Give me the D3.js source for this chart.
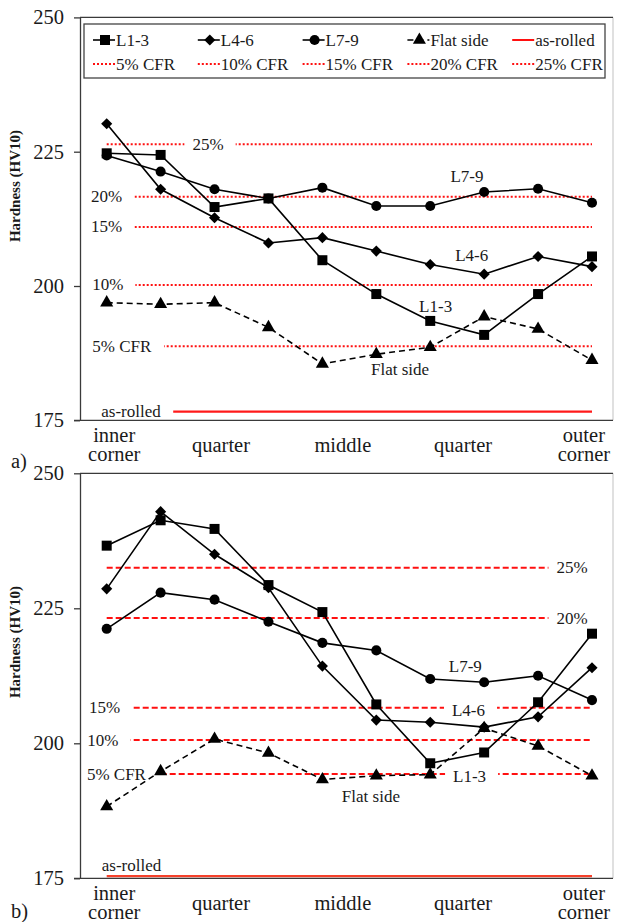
<!DOCTYPE html>
<html>
<head>
<meta charset="utf-8">
<script src="https://cdn.jsdelivr.net/npm/d3@7"></script>
<style>
  body { margin: 0; background: #fff; }
  svg { display: block; }
  svg, svg text { font-family: "Liberation Serif", "Tinos", "Times New Roman", "DejaVu Serif", serif; }
  text { fill: #1a1a1a; }
</style>
</head>
<body>
<svg id="chart" width="617" height="922"></svg>
<script>
// ---- data ----
// measurement positions across the section (inner corner -> outer corner)
const positions = [0, 1, 2, 3, 4, 5, 6, 7, 8, 9];
const categoryLabels = ["inner corner", "quarter", "middle", "quarter", "outer corner"];
const yTicks = [175, 200, 225, 250];
const seriesNames = ["L1-3", "L4-6", "L7-9", "Flat side"];
const cfrNames = ["5% CFR", "10% CFR", "15% CFR", "20% CFR", "25% CFR"];

// panel a)
const aL13  = [224.7, 224.4, 214.7, 216.3, 204.8, 198.5, 193.5, 190.9, 198.5, 205.5];
const aL46  = [230.2, 218.0, 212.7, 208.0, 209.0, 206.5, 204.0, 202.2, 205.5, 203.6];
const aL79  = [224.3, 221.3, 218.0, 216.3, 218.3, 214.9, 214.9, 217.5, 218.1, 215.5];
const aFlat = [196.9, 196.6, 196.9, 192.3, 185.5, 187.3, 188.6, 194.3, 192.0, 186.2];
const aCFR  = [188.8, 200.2, 211.0, 216.6, 226.4];
const aAsRolled = 176.6;

// panel b)
const bL13  = [236.6, 241.3, 239.7, 229.3, 224.3, 207.2, 196.3, 198.3, 207.6, 220.3];
const bL46  = [228.6, 242.9, 235.0, 228.8, 214.3, 204.3, 203.9, 203.0, 204.9, 214.0];
const bL79  = [221.2, 227.9, 226.6, 222.5, 218.6, 217.2, 211.9, 211.3, 212.5, 208.0];
const bFlat = [188.3, 194.8, 200.8, 198.2, 193.3, 194.0, 194.2, 202.8, 199.5, 194.0];
const bCFR  = [194.3, 200.6, 206.6, 223.2, 232.5];
const bAsRolled = 175.4;

// ---- layout ----
const FONT = '"Liberation Serif", "Tinos", "Times New Roman", "DejaVu Serif", serif';
const svg = d3.select("#chart").attr("font-family", FONT);
const plotLeft = 80, plotRight = 613;
const x = d3.scaleLinear().domain([0, 9]).range([106.7, 592]);
// where each section label sits along the position axis
const categoryAt = [0.14, 2.12, 4.38, 6.61, 8.85];

const markerShapes = {
  "L1-3": { type: d3.symbolSquare, size: 100, rotate: 0 },
  "L4-6": { type: d3.symbolSquare, size: 62, rotate: 45 },
  "L7-9": { type: d3.symbolCircle, size: 80, rotate: 0 },
  "Flat side": { type: d3.symbolTriangle, size: 74, rotate: 0 }
};
const dashFor = name => name === "Flat side" ? "6,4" : null;

const panels = [
  {
    tag: "a)", tagY: 468, top: 17.4, bottom: 420.3, titleY: 186,
    series: [aL13, aL46, aL79, aFlat], cfr: aCFR, asRolled: aAsRolled,
    cfrDash: "2,2", asRolledColor: "#ff1a1a", legend: true,
    // annotation anchors in data units (position index, hardness)
    notes: [
      ["25%", 1.88, aCFR[4]], ["20%", 0.0, aCFR[3]], ["15%", 0.0, aCFR[2]],
      ["10%", 0.02, aCFR[1]], ["5% CFR", 0.28, aCFR[0]], ["as-rolled", 0.45, aAsRolled],
      ["L7-9", 6.68, 220.4], ["L4-6", 6.77, 205.6], ["L1-3", 6.1, 196.1], ["Flat side", 5.44, 184.5]
    ]
  },
  {
    tag: "b)", tagY: 918, top: 473.3, bottom: 878.3, titleY: 642,
    series: [bL13, bL46, bL79, bFlat], cfr: bCFR, asRolled: bAsRolled,
    cfrDash: "6,3", asRolledColor: "#f5402a", legend: false,
    notes: [
      ["25%", 8.63, bCFR[4]], ["20%", 8.63, bCFR[3]], ["15%", -0.04, bCFR[2]],
      ["10%", -0.07, bCFR[1]], ["5% CFR", 0.18, bCFR[0]], ["as-rolled", 0.46, 177.3],
      ["L7-9", 6.65, 214.2], ["L4-6", 6.71, 206.0], ["L1-3", 6.73, 193.8], ["Flat side", 4.9, 190.1]
    ]
  }
];

function symbolPath(name) {
  const m = markerShapes[name];
  return d3.symbol().type(m.type).size(m.size)();
}

function drawPanel(p) {
  const y = d3.scaleLinear().domain([175, 250]).range([p.bottom, p.top]);
  const g = svg.append("g");

  // plot frame
  g.append("line").attr("x1", plotRight).attr("x2", plotRight)
    .attr("y1", p.top).attr("y2", p.bottom).attr("stroke", "#d6d6d6").attr("stroke-width", 1.5);
  g.append("line").attr("x1", plotLeft).attr("x2", plotRight)
    .attr("y1", p.top).attr("y2", p.top).attr("stroke", "#3a3a3a").attr("stroke-width", 1.3);

  const cfrLayer = g.append("g");
  const bgLayer = g.append("g");
  const seriesLayer = g.append("g");
  const textLayer = g.append("g");

  // y axis
  const ya = g.append("g").attr("transform", `translate(${plotLeft},0)`)
    .call(d3.axisLeft(y).tickValues(yTicks).tickSize(6).tickSizeOuter(0).tickPadding(10));
  ya.attr("font-family", FONT).attr("font-size", 20.5);
  ya.select(".domain").attr("stroke", "#3a3a3a").attr("stroke-width", 1.3);
  ya.selectAll(".tick line").attr("stroke", "#3a3a3a").attr("stroke-width", 1.3);
  ya.selectAll(".tick text").attr("fill", "#1a1a1a");

  // x baseline
  g.append("line").attr("x1", plotLeft - 6).attr("x2", plotRight)
    .attr("y1", p.bottom).attr("y2", p.bottom).attr("stroke", "#3a3a3a").attr("stroke-width", 1.3);

  // category labels
  categoryLabels.forEach((lab, i) => {
    const words = lab.split(" ");
    const cx = x(categoryAt[i]);
    const t = g.append("text").attr("text-anchor", "middle").attr("font-size", 20.5);
    if (words.length === 1) {
      t.append("tspan").attr("x", cx).attr("y", p.bottom + 32).text(words[0]);
    } else {
      t.append("tspan").attr("x", cx).attr("y", p.bottom + 22).text(words[0]);
      t.append("tspan").attr("x", cx).attr("dy", 18.5).text(words.slice(1).join(" "));
    }
  });

  // axis title
  g.append("text")
    .attr("transform", `translate(20,${p.titleY}) rotate(-90)`)
    .attr("text-anchor", "middle").attr("font-size", 15).attr("font-weight", "bold")
    .text("Hardness (HV10)");

  // panel tag
  g.append("text").attr("x", 11).attr("y", p.tagY).attr("font-size", 20.5).text(p.tag);

  // CFR reference lines
  p.cfr.forEach(v => {
    cfrLayer.append("line").attr("x1", x(0)).attr("x2", x(9))
      .attr("y1", y(v)).attr("y2", y(v))
      .attr("stroke", "#ff1010").attr("stroke-width", 2).attr("stroke-dasharray", p.cfrDash);
  });
  cfrLayer.append("line").attr("x1", x(0)).attr("x2", x(9))
    .attr("y1", y(p.asRolled)).attr("y2", y(p.asRolled))
    .attr("stroke", p.asRolledColor).attr("stroke-width", 2.2);

  // series
  const line = d3.line().x((d, i) => x(positions[i])).y(d => y(d));
  p.series.forEach((vals, si) => {
    const name = seriesNames[si];
    seriesLayer.append("path").datum(vals).attr("d", line)
      .attr("fill", "none").attr("stroke", "#000").attr("stroke-width", 1.6)
      .attr("stroke-dasharray", dashFor(name));
    seriesLayer.selectAll(null).data(vals).join("path")
      .attr("d", symbolPath(name))
      .attr("transform", (d, i) => `translate(${x(positions[i])},${y(d)}) rotate(${markerShapes[name].rotate})`)
      .attr("fill", "#000");
  });

  // annotations (white backing gaps the reference lines)
  p.notes.forEach(([txt, xi, v]) => {
    const t = textLayer.append("text").attr("x", x(xi)).attr("y", y(v))
      .attr("text-anchor", "middle").attr("dominant-baseline", "central")
      .attr("font-size", 17).text(txt);
    const bb = t.node().getBBox();
    bgLayer.append("rect").attr("x", bb.x - 8).attr("y", bb.y + 2)
      .attr("width", bb.width + 20).attr("height", bb.height - 4).attr("fill", "#fff");
  });

  if (p.legend) drawLegend(g);
}

function drawLegend(g) {
  const lg = g.append("g");
  lg.append("rect").attr("x", 84).attr("y", 24).attr("width", 521).attr("height", 54)
    .attr("fill", "#fff").attr("stroke", "#444").attr("stroke-width", 1.3);
  const keys = seriesNames.concat(["as-rolled"], cfrNames);
  keys.forEach((k, i) => {
    const col = i % 5, row = Math.floor(i / 5);
    const sx = 93 + col * 104.8, sy = 40 + row * 24;
    const isSeries = seriesNames.includes(k);
    const isCfr = cfrNames.includes(k);
    lg.append("line").attr("x1", sx).attr("x2", sx + 22).attr("y1", sy).attr("y2", sy)
      .attr("stroke", isSeries ? "#000" : "#ff1010")
      .attr("stroke-width", isSeries ? 1.6 : 2)
      .attr("stroke-dasharray", isCfr ? "2,2" : (k === "Flat side" ? "6,4" : null));
    if (isSeries) {
      lg.append("path").attr("d", symbolPath(k))
        .attr("transform", `translate(${sx + 12},${sy}) rotate(${markerShapes[k].rotate})`)
        .attr("fill", "#000");
    }
    lg.append("text").attr("x", sx + 23).attr("y", sy).attr("dominant-baseline", "central")
      .attr("font-size", 17).text(k);
  });
}

panels.forEach(drawPanel);
</script>
</body>
</html>
